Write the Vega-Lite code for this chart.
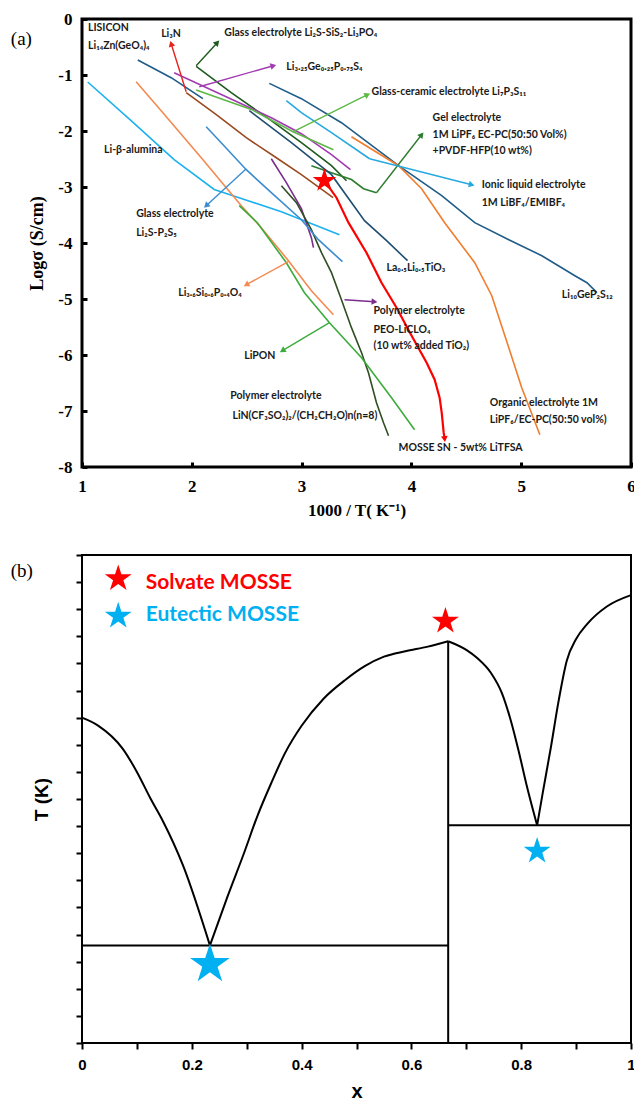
{
  "$schema": "https://vega.github.io/schema/vega-lite/v6.json",
  "padding": {"left": 9, "top": 8, "right": 2, "bottom": 0},
  "spacing": 33,
  "background": "white",
  "resolve": {"scale": {"color": "independent"}},
  "config": {"axis": {"grid": false, "domain": false, "labelFlush": false, "labelOverlap": false, "labelBound": false}},
  "datasets": {
    "curves": [
      {"s":"beta","x":1.052,"y":-1.125},{"s":"beta","x":1.447,"y":-1.816},{"s":"beta","x":1.839,"y":-2.512},{"s":"beta","x":2.204,"y":-3.043},{"s":"beta","x":2.451,"y":-3.204},{"s":"beta","x":2.816,"y":-3.441},{"s":"beta","x":3.345,"y":-3.852},
      {"s":"LISICON","x":1.508,"y":-0.732},{"s":"LISICON","x":1.812,"y":-1.048},{"s":"LISICON","x":2.101,"y":-1.423},
      {"s":"Li3N","x":1.949,"y":-1.316},{"s":"Li3N","x":2.223,"y":-1.709},{"s":"Li3N","x":2.496,"y":-2.12},{"s":"Li3N","x":2.77,"y":-2.477},{"s":"Li3N","x":2.998,"y":-2.78},{"s":"Li3N","x":3.287,"y":-3.191},
      {"s":"SiS2","x":2.04,"y":-0.845},{"s":"SiS2","x":2.359,"y":-1.316},{"s":"SiS2","x":2.724,"y":-1.816},{"s":"SiS2","x":2.998,"y":-2.209},{"s":"SiS2","x":3.272,"y":-2.62},{"s":"SiS2","x":3.409,"y":-2.888},
      {"s":"LGPS325","x":1.839,"y":-0.959},{"s":"LGPS325","x":2.451,"y":-1.513},{"s":"LGPS325","x":2.724,"y":-1.763},{"s":"LGPS325","x":2.998,"y":-2.048},{"s":"LGPS325","x":3.272,"y":-2.423},{"s":"LGPS325","x":3.445,"y":-2.691},
      {"s":"Li7P3S11","x":2.04,"y":-1.268},{"s":"Li7P3S11","x":2.542,"y":-1.614},{"s":"Li7P3S11","x":2.922,"y":-2.013},{"s":"Li7P3S11","x":3.29,"y":-2.334},
      {"s":"Gel","x":3.089,"y":-2.62},{"s":"Gel","x":3.272,"y":-2.745},{"s":"Gel","x":3.454,"y":-2.866},{"s":"Gel","x":3.564,"y":-3.03},{"s":"Gel","x":3.682,"y":-3.102},
      {"s":"Ionic","x":2.861,"y":-1.459},{"s":"Ionic","x":2.998,"y":-1.673},{"s":"Ionic","x":3.272,"y":-2.03},{"s":"Ionic","x":3.619,"y":-2.495},
      {"s":"LGPS","x":2.706,"y":-1.15},{"s":"LGPS","x":2.998,"y":-1.423},{"s":"LGPS","x":3.363,"y":-1.852},{"s":"LGPS","x":3.883,"y":-2.62},{"s":"LGPS","x":4.276,"y":-3.155},{"s":"LGPS","x":4.577,"y":-3.637},{"s":"LGPS","x":4.887,"y":-3.941},{"s":"LGPS","x":5.188,"y":-4.227},{"s":"LGPS","x":5.489,"y":-4.584},{"s":"LGPS","x":5.599,"y":-4.709},{"s":"LGPS","x":5.69,"y":-4.887},
      {"s":"Organic","x":3.454,"y":-2.102},{"s":"Organic","x":3.883,"y":-2.62},{"s":"Organic","x":4.093,"y":-3.03},{"s":"Organic","x":4.303,"y":-3.637},{"s":"Organic","x":4.577,"y":-4.352},{"s":"Organic","x":4.732,"y":-4.941},{"s":"Organic","x":4.887,"y":-5.87},{"s":"Organic","x":5.005,"y":-6.584},{"s":"Organic","x":5.17,"y":-7.423},
      {"s":"LLTO","x":2.524,"y":-1.638},{"s":"LLTO","x":2.907,"y":-2.209},{"s":"LLTO","x":3.272,"y":-2.78},{"s":"LLTO","x":3.573,"y":-3.602},{"s":"LLTO","x":3.774,"y":-3.959},{"s":"LLTO","x":3.965,"y":-4.316},
      {"s":"PEO","x":2.724,"y":-2.495},{"s":"PEO","x":2.861,"y":-2.923},{"s":"PEO","x":2.998,"y":-3.387},{"s":"PEO","x":3.089,"y":-3.905},{"s":"PEO","x":3.108,"y":-4.084},
      {"s":"LiN","x":2.816,"y":-2.977},{"s":"LiN","x":2.953,"y":-3.28},{"s":"LiN","x":3.089,"y":-3.763},{"s":"LiN","x":3.181,"y":-4.173},{"s":"LiN","x":3.272,"y":-4.53},{"s":"LiN","x":3.363,"y":-5.013},{"s":"LiN","x":3.454,"y":-5.512},{"s":"LiN","x":3.546,"y":-5.959},{"s":"LiN","x":3.609,"y":-6.316},{"s":"LiN","x":3.682,"y":-6.852},{"s":"LiN","x":3.746,"y":-7.209},{"s":"LiN","x":3.792,"y":-7.441},
      {"s":"P2S5","x":2.131,"y":-1.923},{"s":"P2S5","x":2.268,"y":-2.209},{"s":"P2S5","x":2.496,"y":-2.691},{"s":"P2S5","x":2.724,"y":-3.102},{"s":"P2S5","x":2.998,"y":-3.584},{"s":"P2S5","x":3.153,"y":-3.941},{"s":"P2S5","x":3.372,"y":-4.334},
      {"s":"LiSiPO","x":1.493,"y":-1.12},{"s":"LiSiPO","x":1.721,"y":-1.638},{"s":"LiSiPO","x":2.086,"y":-2.477},{"s":"LiSiPO","x":2.451,"y":-3.334},{"s":"LiSiPO","x":2.633,"y":-3.727},{"s":"LiSiPO","x":2.88,"y":-4.316},{"s":"LiSiPO","x":3.089,"y":-4.852},{"s":"LiSiPO","x":3.29,"y":-5.28},
      {"s":"LiPON","x":2.432,"y":-3.334},{"s":"LiPON","x":2.597,"y":-3.637},{"s":"LiPON","x":2.861,"y":-4.352},{"s":"LiPON","x":3.026,"y":-4.887},{"s":"LiPON","x":3.254,"y":-5.423},{"s":"LiPON","x":3.546,"y":-6.048},{"s":"LiPON","x":3.819,"y":-6.762},{"s":"LiPON","x":4.029,"y":-7.334}
    ],
    "mosse": [
      {"s":"MOSSE","x":3.208,"y":-2.888},{"s":"MOSSE","x":3.318,"y":-3.191},{"s":"MOSSE","x":3.427,"y":-3.637},{"s":"MOSSE","x":3.591,"y":-4.173},{"s":"MOSSE","x":3.728,"y":-4.709},{"s":"MOSSE","x":3.865,"y":-5.155},{"s":"MOSSE","x":4.002,"y":-5.655},{"s":"MOSSE","x":4.139,"y":-6.137},{"s":"MOSSE","x":4.212,"y":-6.441},{"s":"MOSSE","x":4.257,"y":-6.762},{"s":"MOSSE","x":4.276,"y":-7.03},{"s":"MOSSE","x":4.294,"y":-7.388},{"s":"MOSSE","x":4.3,"y":-7.46}
    ],
    "arrows": [
      {"id":1,"s":"Li3N arrow","x":1.949,"y":-1.298},{"id":1,"s":"Li3N arrow","x":1.812,"y":-0.441},
      {"id":2,"s":"SiS2","x":2.04,"y":-0.834},{"id":2,"s":"SiS2","x":2.232,"y":-0.423},
      {"id":3,"s":"LGPS325","x":2.068,"y":-1.209},{"id":3,"s":"LGPS325","x":2.743,"y":-0.834},
      {"id":4,"s":"Li7P3S11","x":2.925,"y":-2.013},{"id":4,"s":"Li7P3S11","x":3.6,"y":-1.352},
      {"id":5,"s":"Gel","x":3.682,"y":-3.102},{"id":5,"s":"Gel","x":4.093,"y":-2.066},
      {"id":6,"s":"Ionic","x":3.619,"y":-2.495},{"id":6,"s":"Ionic","x":4.549,"y":-2.959},
      {"id":7,"s":"P2S5","x":2.496,"y":-2.673},{"id":7,"s":"P2S5","x":2.131,"y":-3.334},
      {"id":8,"s":"LiSiPO","x":2.88,"y":-4.334},{"id":8,"s":"LiSiPO","x":2.496,"y":-4.745},
      {"id":9,"s":"PEO","x":3.391,"y":-5.013},{"id":9,"s":"PEO","x":3.664,"y":-5.048},
      {"id":10,"s":"LiPON","x":3.254,"y":-5.423},{"id":10,"s":"LiPON","x":2.825,"y":-5.923}
    ],
    "heads": [
      {"s":"Li3N arrow","x":1.812,"y":-0.441,"a":343},
      {"s":"SiS2","x":2.232,"y":-0.423,"a":42},
      {"s":"LGPS325","x":2.743,"y":-0.834,"a":74},
      {"s":"Li7P3S11","x":3.6,"y":-1.352,"a":63},
      {"s":"Gel","x":4.093,"y":-2.066,"a":38},
      {"s":"Ionic","x":4.549,"y":-2.959,"a":104},
      {"s":"P2S5","x":2.131,"y":-3.334,"a":227},
      {"s":"LiSiPO","x":2.496,"y":-4.745,"a":241},
      {"s":"PEO","x":3.664,"y":-5.048,"a":94},
      {"s":"LiPON","x":2.825,"y":-5.923,"a":239},
      {"s":"MOSSE","x":4.303,"y":-7.5,"a":174}
    ],
    "labelsA": [
      {"t":"LISICON","x":1.055,"y":-0.155},
      {"t":"Li₁₄Zn(GeO₄)₄","x":1.055,"y":-0.477},
      {"t":"Li₃N","x":1.721,"y":-0.263},
      {"t":"Glass electrolyte Li₂S-SiS₂-Li₃PO₄","x":2.296,"y":-0.245},
      {"t":"Li₃.₂₅Ge₀.₂₅P₀.₇₅S₄","x":2.861,"y":-0.852},
      {"t":"Glass-ceramic electrolyte Li₇P₃S₁₁","x":3.637,"y":-1.298},
      {"t":"Gel electrolyte","x":4.193,"y":-1.763},
      {"t":"1M LiPF₆ EC-PC(50:50 Vol%)","x":4.193,"y":-2.066},
      {"t":"+PVDF-HFP(10 wt%)","x":4.193,"y":-2.352},
      {"t":"Ionic liquid electrolyte","x":4.641,"y":-2.959},
      {"t":"1M LiBF₄/EMIBF₄","x":4.641,"y":-3.28},
      {"t":"Li-β-alumina","x":1.201,"y":-2.334},
      {"t":"Glass electrolyte","x":1.493,"y":-3.477},
      {"t":"Li₂S-P₂S₅","x":1.493,"y":-3.816},
      {"t":"La₀.₅Li₀.₅TiO₃","x":3.774,"y":-4.441},
      {"t":"Li₁₀GeP₂S₁₂","x":5.37,"y":-4.923},
      {"t":"Li₃.₆Si₀.₆P₀.₄O₄","x":1.876,"y":-4.887},
      {"t":"Polymer electrolyte","x":3.655,"y":-5.209},
      {"t":"PEO-LiCLO₄","x":3.655,"y":-5.548},
      {"t":"(10 wt% added TiO₂)","x":3.655,"y":-5.834},
      {"t":"LiPON","x":2.478,"y":-6.012},
      {"t":"Polymer electrolyte","x":2.35,"y":-6.727},
      {"t":"LiN(CF₃SO₂)₂/(CH₂CH₂O)n(n=8)","x":2.37,"y":-7.084},
      {"t":"Organic electrolyte 1M","x":4.714,"y":-6.852},
      {"t":"LiPF₆/EC-PC(50:50 vol%)","x":4.714,"y":-7.155},
      {"t":"MOSSE SN - 5wt% LiTFSA","x":3.883,"y":-7.655}
    ],
    "phaseCurves": [
      {"s":"liqL","x":0,"y":12.0},{"s":"liqL","x":0.03,"y":11.7},{"s":"liqL","x":0.074,"y":10.86},{"s":"liqL","x":0.1,"y":10.0},{"s":"liqL","x":0.125,"y":9.01},{"s":"liqL","x":0.147,"y":8.2},{"s":"liqL","x":0.184,"y":6.55},{"s":"liqL","x":0.233,"y":3.6},
      {"s":"liqM","x":0.233,"y":3.6},{"s":"liqM","x":0.265,"y":5.4},{"s":"liqM","x":0.295,"y":7.0},{"s":"liqM","x":0.32,"y":8.4},{"s":"liqM","x":0.345,"y":9.6},{"s":"liqM","x":0.37,"y":10.7},{"s":"liqM","x":0.4,"y":11.7},{"s":"liqM","x":0.44,"y":12.7},{"s":"liqM","x":0.48,"y":13.4},{"s":"liqM","x":0.515,"y":13.9},{"s":"liqM","x":0.55,"y":14.25},{"s":"liqM","x":0.589,"y":14.45},{"s":"liqM","x":0.63,"y":14.62},{"s":"liqM","x":0.667,"y":14.82},
      {"s":"dome","x":0.667,"y":14.82},{"s":"dome","x":0.7,"y":14.5},{"s":"dome","x":0.721,"y":14.18},{"s":"dome","x":0.745,"y":13.65},{"s":"dome","x":0.765,"y":12.9},{"s":"dome","x":0.78,"y":11.97},{"s":"dome","x":0.795,"y":10.8},{"s":"dome","x":0.81,"y":9.5},{"s":"dome","x":0.829,"y":8.03},
      {"s":"liqR","x":0.829,"y":8.03},{"s":"liqR","x":0.839,"y":9.2},{"s":"liqR","x":0.854,"y":10.9},{"s":"liqR","x":0.868,"y":12.6},{"s":"liqR","x":0.883,"y":14.1},{"s":"liqR","x":0.9,"y":14.9},{"s":"liqR","x":0.92,"y":15.45},{"s":"liqR","x":0.956,"y":16.1},{"s":"liqR","x":1.0,"y":16.52}
    ],
    "phaseLines": [
      {"s":"vert","x":0.667,"y":14.82},{"s":"vert","x":0.667,"y":0},
      {"s":"eut1","x":0,"y":3.6},{"s":"eut1","x":0.667,"y":3.6},
      {"s":"eut2","x":0.667,"y":8.03},{"s":"eut2","x":1.0,"y":8.03}
    ],
    "starsB": [
      {"k":"solvate","x":0.662,"y":15.56},
      {"k":"eutectic1","x":0.233,"y":2.9},
      {"k":"eutectic2","x":0.829,"y":7.08},
      {"k":"legend solvate","x":0.066,"y":17.13},
      {"k":"legend eutectic","x":0.066,"y":15.75}
    ],
    "legendB": [
      {"k":"legend solvate","t":"Solvate MOSSE","x":0.116,"y":16.95},
      {"k":"legend eutectic","t":"Eutectic MOSSE","x":0.116,"y":15.77}
    ]
  },
  "vconcat": [
    {
      "width": 549,
      "height": 448,
      "view": {"stroke": "black", "strokeWidth": 3},
      "encoding": {
        "x": {"field": "x", "type": "quantitative", "scale": {"domain": [1, 6], "nice": false, "zero": false},
          "axis": {"title": "1000 / T( K⁻¹)", "values": [1, 2, 3, 4, 5, 6], "labelExpr": "toString(datum.value)", "offset": -5, "tickSize": 5, "tickWidth": 3, "tickColor": "black", "labelFont": "Liberation Serif", "labelFontSize": 17, "labelFontWeight": "bold", "labelColor": "black", "labelPadding": 11, "titleFont": "Liberation Serif", "titleFontSize": 17, "titleFontWeight": "bold", "titleColor": "black", "titlePadding": 8}},
        "y": {"field": "y", "type": "quantitative", "scale": {"domain": [-8, 0], "nice": false, "zero": false},
          "axis": {"title": "Logσ (S/cm)", "values": [0, -1, -2, -3, -4, -5, -6, -7, -8], "labelExpr": "toString(datum.value)", "offset": -5, "tickSize": 5, "tickWidth": 3, "tickColor": "black", "labelFont": "Liberation Serif", "labelFontSize": 17, "labelFontWeight": "bold", "labelColor": "black", "labelPadding": 10, "titleFont": "Liberation Serif", "titleFontSize": 18, "titleFontWeight": "bold", "titleColor": "black", "titlePadding": 11}}
      },
      "layer": [
        {
          "data": {"name": "curves"},
          "mark": {"type": "line", "strokeWidth": 1.6},
          "encoding": {
            "color": {"field": "s", "type": "nominal", "legend": null,
              "scale": {"domain": ["beta","LISICON","Li3N","Li3N arrow","SiS2","LGPS325","Li7P3S11","Gel","Ionic","LGPS","Organic","LLTO","MOSSE","PEO","LiN","P2S5","LiSiPO","LiPON"],
                        "range": ["#1DB1EE","#1F5C88","#9A4A1E","#E8231E","#1F5A1F","#A23AB2","#5DB846","#2E7D2E","#25A8E0","#1F5C88","#F07D2E","#1F4E70","#FF0000","#7B2D8E","#2F4F22","#3B8CD0","#F48A50","#3CAB3C"]}}
          }
        },
        {
          "data": {"name": "arrows"},
          "mark": {"type": "line", "strokeWidth": 1.4},
          "encoding": {
            "color": {"field": "s", "type": "nominal", "legend": null},
            "detail": {"field": "id", "type": "nominal"}
          }
        },
        {
          "data": {"name": "mosse"},
          "mark": {"type": "line", "strokeWidth": 2.2},
          "encoding": {
            "color": {"field": "s", "type": "nominal", "legend": null}
          }
        },
        {
          "data": {"name": "heads"},
          "mark": {"type": "point", "shape": "triangle-up", "filled": true, "size": 45, "opacity": 1},
          "encoding": {
            "color": {"field": "s", "type": "nominal", "legend": null},
            "angle": {"field": "a", "type": "quantitative", "scale": {"domain": [0, 360], "range": [0, 360]}}
          }
        },
        {
          "data": {"values": [{"x": 3.208, "y": -2.888}]},
          "mark": {"type": "point", "shape": "M0,-1L0.2245,-0.309L0.951,-0.309L0.3633,0.118L0.588,0.809L0,0.382L-0.588,0.809L-0.3633,0.118L-0.951,-0.309L-0.2245,-0.309Z", "filled": true, "size": 620, "color": "#FF0000", "opacity": 1}
        },
        {
          "data": {"name": "labelsA"},
          "mark": {"type": "text", "align": "left", "baseline": "middle", "font": "Lato, Noto Sans, DejaVu Sans", "fontSize": 10.5, "fontWeight": "bold", "color": "#1a1a1a"},
          "encoding": {"text": {"field": "t", "type": "nominal"}}
        },
        {
          "data": {"values": [{"t": "(a)", "x": 0.352, "y": -0.352}]},
          "mark": {"type": "text", "align": "left", "baseline": "middle", "font": "Liberation Serif", "fontSize": 19, "color": "black"},
          "encoding": {"text": {"field": "t", "type": "nominal"}}
        }
      ]
    },
    {
      "width": 549,
      "height": 488,
      "view": {"stroke": "black", "strokeWidth": 2},
      "encoding": {
        "x": {"field": "x", "type": "quantitative", "scale": {"domain": [0, 1], "nice": false, "zero": false},
          "axis": {"title": "x", "values": [0, 0.1, 0.2, 0.3, 0.4, 0.5, 0.6, 0.7, 0.8, 0.9, 1], "labelExpr": "round(datum.value*10)%2==0 ? toString(datum.value) : ''", "tickSize": 6, "tickWidth": 2, "tickColor": "black", "labelFont": "Liberation Sans", "labelFontSize": 15, "labelFontWeight": "bold", "labelColor": "black", "labelPadding": 8, "titleFont": "Liberation Sans", "titleFontSize": 20, "titleFontWeight": "bold", "titleColor": "black", "titlePadding": 9}},
        "y": {"field": "y", "type": "quantitative", "scale": {"domain": [0, 18], "nice": false, "zero": false},
          "axis": {"title": "T (K)", "values": [0,1,2,3,4,5,6,7,8,9,10,11,12,13,14,15,16,17,18], "labels": false, "tickSize": 6, "tickWidth": 2, "tickColor": "black", "titleFont": "Liberation Sans", "titleFontSize": 19, "titleFontWeight": "bold", "titleColor": "black", "titlePadding": 24}}
      },
      "layer": [
        {
          "data": {"name": "phaseCurves"},
          "mark": {"type": "line", "strokeWidth": 2, "color": "black", "interpolate": "monotone"},
          "encoding": {"detail": {"field": "s", "type": "nominal"}}
        },
        {
          "data": {"name": "phaseLines"},
          "mark": {"type": "line", "strokeWidth": 2, "color": "black"},
          "encoding": {"detail": {"field": "s", "type": "nominal"}, "order": {"value": null}}
        },
        {
          "data": {"name": "starsB"},
          "transform": [{"filter": "datum.k != 'eutectic1'"}],
          "mark": {"type": "point", "shape": "M0,-1L0.2245,-0.309L0.951,-0.309L0.3633,0.118L0.588,0.809L0,0.382L-0.588,0.809L-0.3633,0.118L-0.951,-0.309L-0.2245,-0.309Z", "filled": true, "opacity": 1, "size": 800},
          "encoding": {
            "color": {"field": "k", "type": "nominal", "legend": null,
              "scale": {"domain": ["solvate","eutectic1","eutectic2","legend solvate","legend eutectic"], "range": ["#FF0000","#00B0F0","#00B0F0","#FF0000","#00B0F0"]}}
          }
        },
        {
          "data": {"name": "starsB"},
          "transform": [{"filter": "datum.k == 'eutectic1'"}],
          "mark": {"type": "point", "shape": "M0,-1L0.2245,-0.309L0.951,-0.309L0.3633,0.118L0.588,0.809L0,0.382L-0.588,0.809L-0.3633,0.118L-0.951,-0.309L-0.2245,-0.309Z", "filled": true, "opacity": 1, "size": 1750},
          "encoding": {
            "color": {"field": "k", "type": "nominal", "legend": null,
              "scale": {"domain": ["solvate","eutectic1","eutectic2","legend solvate","legend eutectic"], "range": ["#FF0000","#00B0F0","#00B0F0","#FF0000","#00B0F0"]}}
          }
        },
        {
          "data": {"name": "legendB"},
          "mark": {"type": "text", "align": "left", "baseline": "middle", "font": "Lato, Noto Sans", "fontSize": 21, "fontWeight": "bold"},
          "encoding": {
            "text": {"field": "t", "type": "nominal"},
            "color": {"field": "k", "type": "nominal", "legend": null,
              "scale": {"domain": ["solvate","eutectic1","eutectic2","legend solvate","legend eutectic"], "range": ["#FF0000","#00B0F0","#00B0F0","#FF0000","#00B0F0"]}}
          }
        },
        {
          "data": {"values": [{"t": "(b)", "x": -0.13, "y": 17.4}]},
          "mark": {"type": "text", "align": "left", "baseline": "middle", "font": "Liberation Serif", "fontSize": 19, "color": "black"},
          "encoding": {"text": {"field": "t", "type": "nominal"}}
        }
      ]
    }
  ]
}
